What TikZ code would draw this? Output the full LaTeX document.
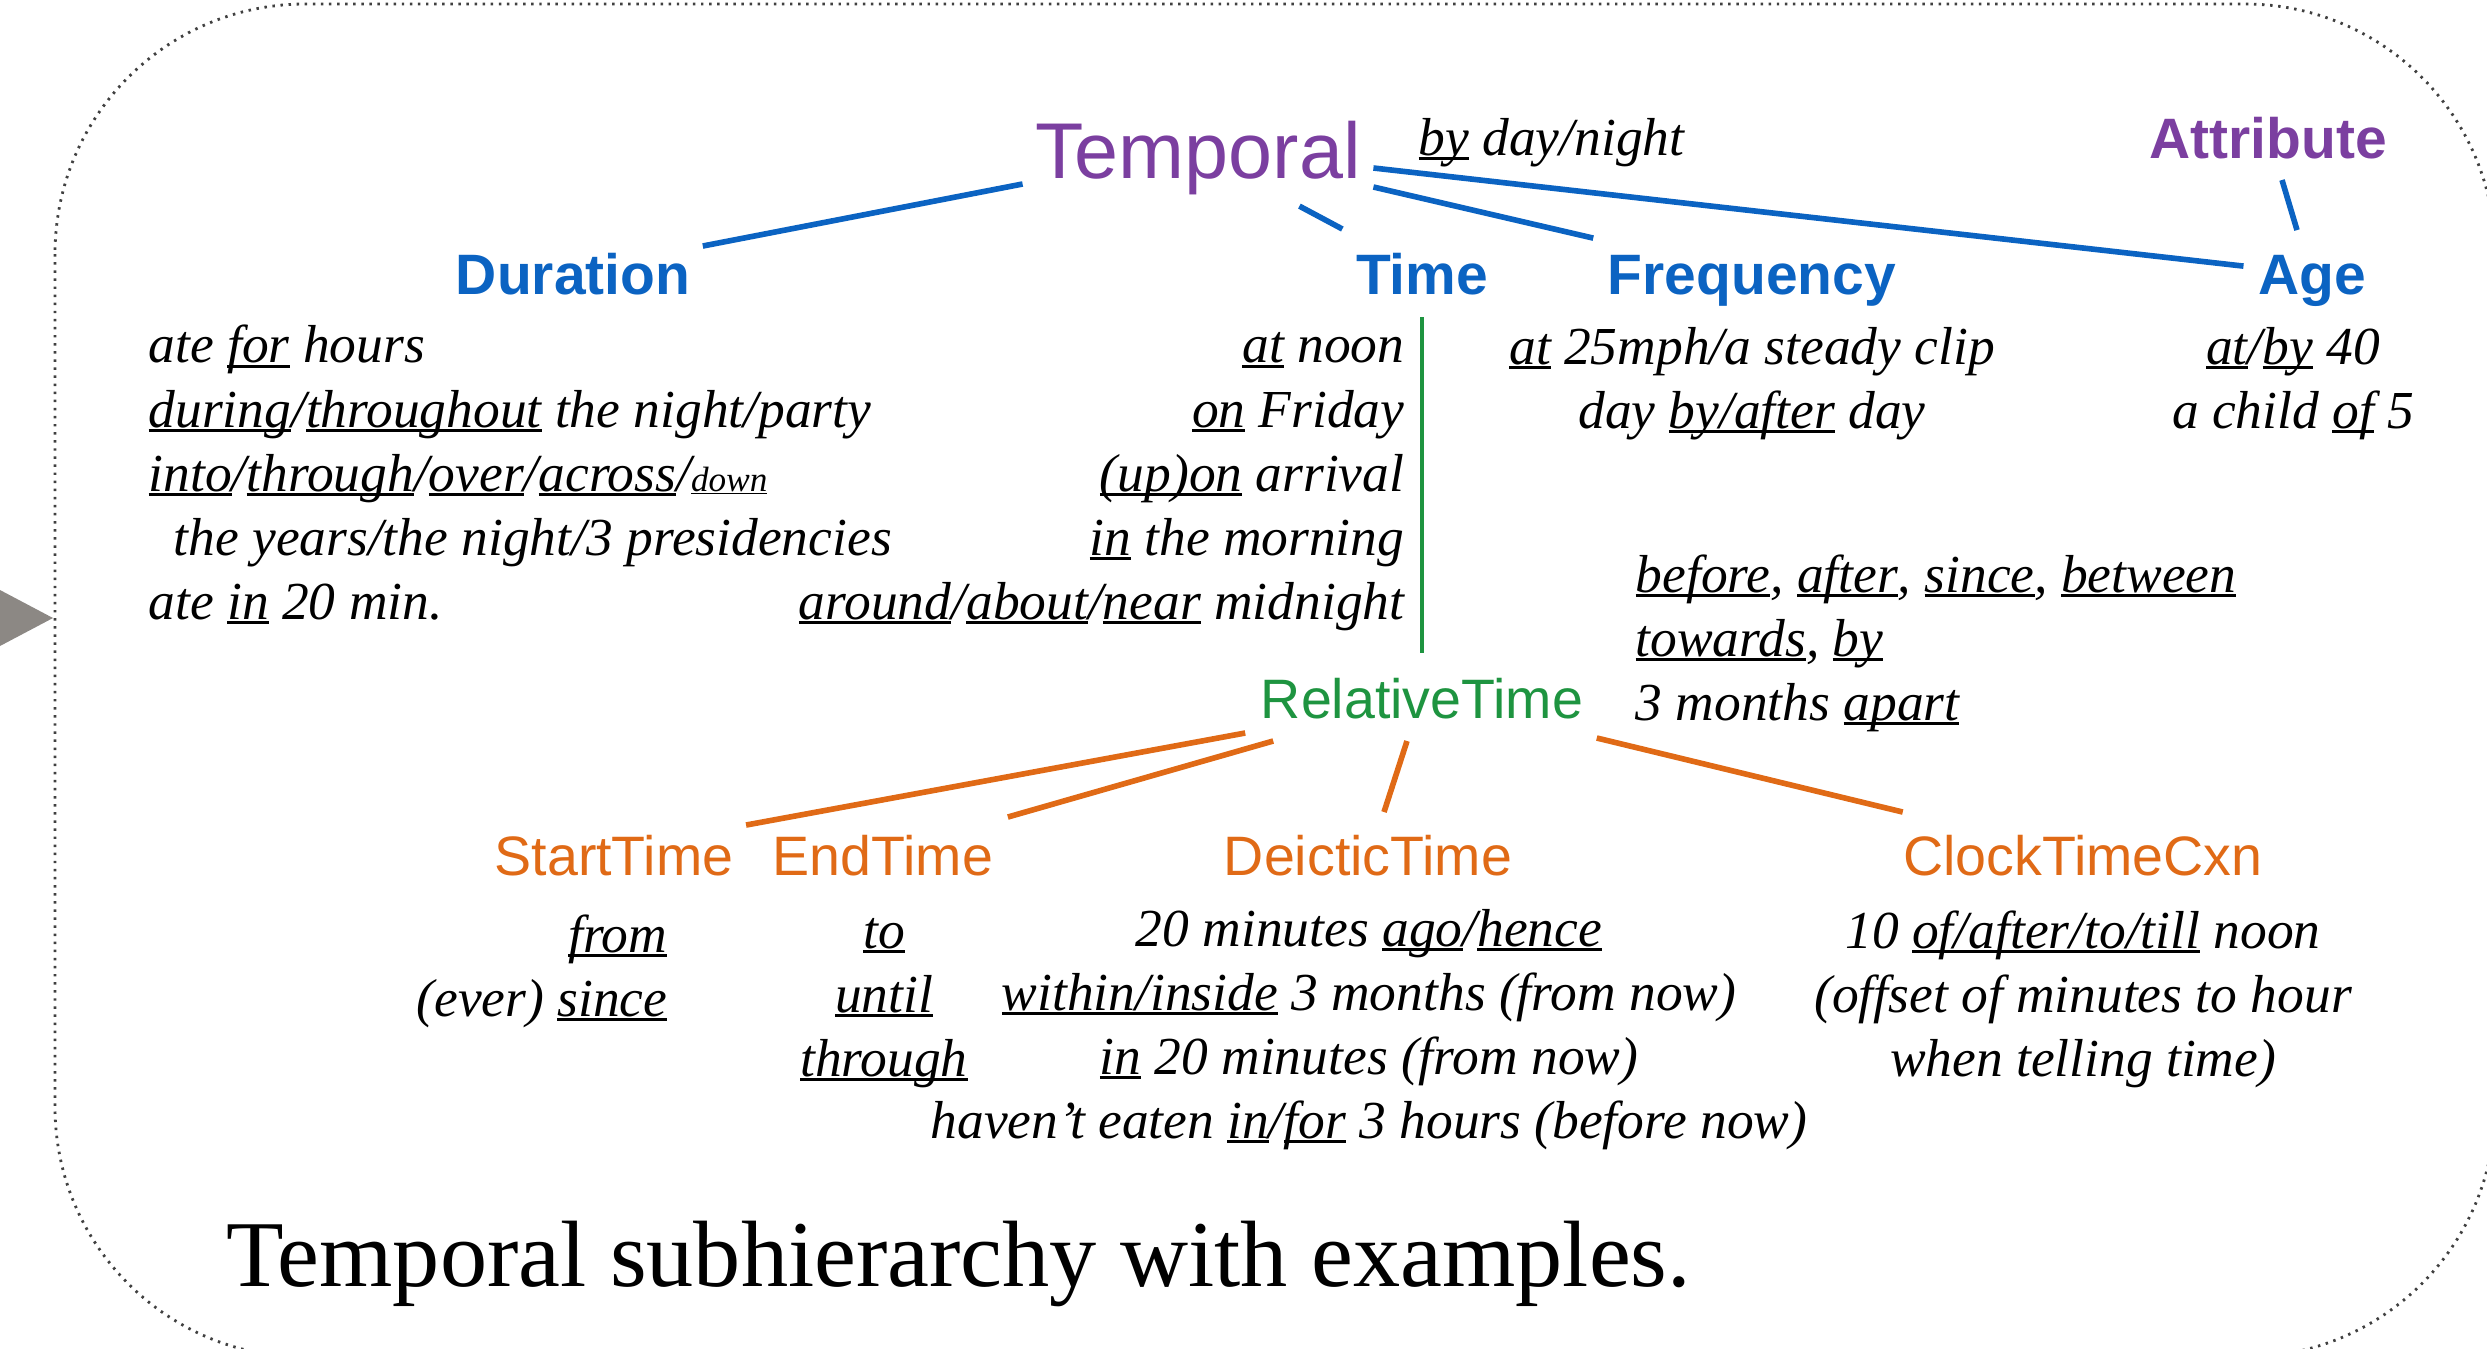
\documentclass[tikz,border=0pt]{standalone}
\usepackage{fontspec}
\setmainfont{Liberation Serif}
\setsansfont{Liberation Sans}
\definecolor{tmpurple}{HTML}{7B3FA0}
\definecolor{tmblue}{HTML}{0B63C2}
\definecolor{tmgreen}{HTML}{1E9440}
\definecolor{tmorange}{HTML}{E06A16}
\definecolor{tmgray}{HTML}{8C8884}
\newcommand\ul[1]{\setbox0\hbox{#1}\rlap{\rule[-0.09em]{\wd0}{0.045em}}\box0\relax}
\tikzset{
  head/.style={font=\sffamily\bfseries\fontsize{16.2}{18}\selectfont, text=tmblue, inner sep=0pt, anchor=base},
  sub/.style={font=\sffamily\fontsize{15.8}{18}\selectfont, text=tmorange, inner sep=0pt, anchor=base},
  ex/.style={font=\fontsize{15.2}{18.2}\selectfont\itshape, inner sep=0pt},
  bl/.style={draw=tmblue, line width=1.6pt},
  og/.style={draw=tmorange, line width=1.6pt},
  frame/.style={draw=black!75, line width=0.8pt, dash pattern=on 0.7pt off 1.6pt, rounded corners=2.5cm},
}
\begin{document}
\begin{tikzpicture}[x=0.01cm,y=-0.01cm]
  \useasboundingbox (0,0) rectangle (2487,1348);
  \clip (0,0) rectangle (2487,1348);
  \draw[frame] (55,4) rectangle (2495,1357);
  \fill[tmgray] (0,590) -- (53,618) -- (0,646) -- cycle;

  % top of the hierarchy
  \node[font=\sffamily\fontsize{22.5}{26}\selectfont, text=tmpurple, inner sep=0pt, anchor=base] (temporal) at (1198,178) {Temporal};
  \node[ex, anchor=base west] (byday) at (1418,155) {\ul{by} day/night};
  \node[head, text=tmpurple] (attribute) at (2268,158) {Attribute};
  \node[head] (duration) at (573,294) {Duration};
  \node[head] (time) at (1422,294) {Time};
  \node[head] (frequency) at (1752,294) {Frequency};
  \node[head] (age) at (2312,294) {Age};

  \draw[bl] ([shift={(-12,6)}]temporal.base west) -- ([shift={(12,-6)}]duration.north east);
  \draw[bl] ([shift={(-62,11)}]temporal.south east) -- ([shift={(-13,-23)}]time.north west);
  \draw[bl] ([shift={(12,9)}]temporal.base east) -- ([shift={(-14,-16)}]frequency.north west);
  \draw[bl] ([shift={(12,-10)}]temporal.base east) -- ([shift={(-14,12)}]age.north west);
  \draw[bl] ([shift={(14,22)}]attribute.base) -- ([shift={(-15,-24)}]age.north);

  % examples, first row (placed at the baseline of the last line)
  \node[ex, anchor=base west, align=left] (durex) at (148,619) {ate \ul{for} hours\\
    \ul{during}/\ul{throughout} the night/party\\
    \ul{into}/\ul{through}/\ul{over}/\ul{across}/{\fontsize{10}{12}\selectfont\ul{down}}\\
    \hspace{0.25cm}the years/the night/3 presidencies\\
    ate \ul{in} 20 min.};
  \node[ex, anchor=base east, align=right] (timeex) at (1405,619) {\ul{at} noon\\
    \ul{on} Friday\\
    \ul{(up)on} arrival\\
    \ul{in} the morning\\
    \ul{around}/\ul{about}/\ul{near} midnight};
  \node[ex, anchor=base, align=center] (freqex) at (1752,428) {\ul{at} 25mph/a steady clip\\
    day \ul{by/after} day};
  \node[ex, anchor=base, align=center] (ageex) at (2293,428) {\ul{at}/\ul{by} 40\\
    a child \ul{of} 5};

  % relative time
  \node[font=\sffamily\fontsize{15.8}{18}\selectfont, text=tmgreen, inner sep=0pt, anchor=base] (relative) at (1422,718) {RelativeTime};
  \node[ex, anchor=base west, align=left] (relex) at (1635,720) {\ul{before}, \ul{after}, \ul{since}, \ul{between}\\
    \ul{towards}, \ul{by}\\
    3 months \ul{apart}};
  \draw[draw=tmgreen, line width=1.4pt] ([shift={(0,22)}]time.south) -- ([shift={(0,-24)}]relative.north);

  \node[sub] (start) at (614,875) {StartTime};
  \node[sub] (end) at (883,875) {EndTime};
  \node[sub] (deictic) at (1368,875) {DeicticTime};
  \node[sub] (clock) at (2083,875) {ClockTimeCxn};

  \draw[og] ([shift={(-15,15)}]relative.base west) -- ([shift={(12,-9)}]start.north east);
  \draw[og] ([shift={(13,23)}]relative.base west) -- ([shift={(14,-17)}]end.north east);
  \draw[og] ([shift={(-15,23)}]relative.base) -- ([shift={(16,-22)}]deictic.north);
  \draw[og] ([shift={(13,20)}]relative.base east) -- ([shift={(0,-22)}]clock.north west);

  % examples, second row
  \node[ex, anchor=base east, align=right] (startex) at (668,1016) {\ul{from}\\
    (ever) \ul{since}};
  \node[ex, anchor=base, align=center] (endex) at (884,1076) {\ul{to}\\
    \ul{until}\\
    \ul{through}};
  \node[ex, anchor=base, align=center] (deicex) at (1369,1138) {20 minutes \ul{ago}/\ul{hence}\\
    \ul{within/inside} 3 months (from now)\\
    \ul{in} 20 minutes (from now)\\
    haven't eaten \ul{in}/\ul{for} 3 hours (before now)};
  \node[ex, anchor=base, align=center] (clockex) at (2083,1076) {10 \ul{of/after/to/till} noon\\
    (offset of minutes to hour\\
    when telling time)};

  \node[font=\fontsize{26.8}{30}\selectfont, inner sep=0pt, anchor=base west] (caption) at (226,1286) {Temporal subhierarchy with examples.};
\end{tikzpicture}
\end{document}
